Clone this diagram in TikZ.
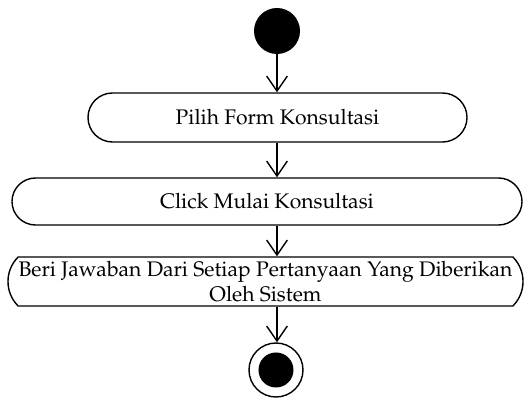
\documentclass[tikz,border=0pt]{standalone}
\usepackage[T1]{fontenc}
\usepackage{mathpazo}
\usetikzlibrary{arrows.meta,shapes.misc}
\begin{document}
\begin{tikzpicture}[xscale=0.03,yscale=-0.03,
    actbox/.style={rounded rectangle,draw,line width=1.2pt,inner sep=0pt,align=center,
      font=\fontsize{18}{21}\selectfont},
    flow/.style={-{Straight Barb[length=0.45cm,width=0.62cm,line width=1.2pt]},line width=1.2pt},
    startnode/.style={circle,fill,inner sep=0pt,minimum size=1.38cm},
    endnode/.style={circle,draw,line width=1.2pt,inner sep=0pt,minimum size=1.62cm}]
  \useasboundingbox (0,0) rectangle (529,399);
  \node[startnode] (start) at (277,31) {};
  \node[actbox,minimum width=11.37cm,minimum height=1.47cm] (pilih) at (277.5,117.5) {Pilih Form Konsultasi};
  \node[actbox,minimum width=15.3cm,minimum height=1.41cm] (mulai) at (267,201.5) {Click Mulai Konsultasi};
  \node[actbox,rounded rectangle arc length=90,minimum width=15.45cm,minimum height=1.47cm] (jawab) at (265.5,281.5)
    {Beri Jawaban Dari Setiap Pertanyaan Yang Diberikan\\Oleh Sistem};
  \node[endnode] (end) at (276,370) {};
  \node[startnode,minimum size=1.05cm] (enddot) at (end) {};
  \draw[flow] (start.south) -- (start.south |- pilih.north);
  \draw[flow] (start.south |- pilih.south) -- (start.south |- mulai.north);
  \draw[flow] (start.south |- mulai.south) -- (start.south |- jawab.north);
  \draw[flow] (start.south |- jawab.south) -- (start.south |- end.north);
\end{tikzpicture}
\end{document}
